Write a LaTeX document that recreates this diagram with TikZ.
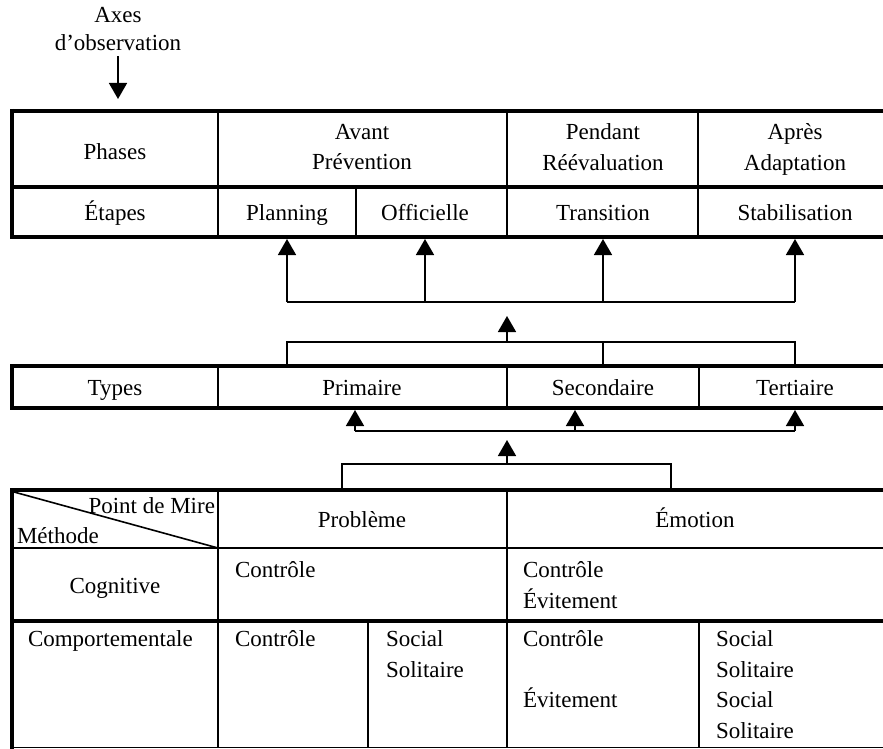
\documentclass[tikz,border=0pt]{standalone}
\usepackage{fontspec}
\setmainfont{Liberation Serif}
\usetikzlibrary{arrows.meta}
\begin{document}
\begin{tikzpicture}[x=1pt,y=-1pt,
  every node/.style={font=\fontsize{23}{30.5}\selectfont, inner sep=0pt, outer sep=0pt},
  thickrule/.style={line width=4pt},
  thinrule/.style={line width=1.6pt},
  conn/.style={line width=1.6pt},
  arr/.style={line width=1.6pt,-{Triangle[width=18pt,length=16pt]}},
  rowtwo/.style={anchor=base,text height=33pt,text depth=17pt},
  rowtypes/.style={anchor=base,text height=29pt,text depth=13pt},
  rowhead/.style={anchor=base,text height=37pt,text depth=21pt},
  lines/.style={align=left,anchor=north west},
  twoline/.style={align=center,anchor=north},
]
\useasboundingbox (0,0) rectangle (883,749);

% observation axis label
\node[twoline,font=\fontsize{23}{28}\selectfont] (axes) at (118,7) {Axes\\d'observation};
\coordinate (axtip) at (118,99);
\draw[arr,shorten <=6pt] (axes.south) -- (axtip);

% ---------- top table ----------
\draw[thickrule] (10,111) -- (883,111);
\draw[thickrule] (10,187) -- (883,187);
\draw[thickrule] (10,237) -- (883,237);
\draw[thickrule] (12,109) -- (12,239);
\draw[thinrule] (218,111) -- (218,237);
\draw[thinrule] (507,111) -- (507,237);
\draw[thinrule] (698,111) -- (698,237);
\draw[thinrule] (356,187) -- (356,237);

\node[anchor=base] (phases) at (115,159) {Phases};
\node[twoline] (avant) at (362,124) {Avant\\Prévention};
\node[twoline] (pendant) at (603,124) {Pendant\\Réévaluation};
\node[twoline] (apres) at (795,124) {Après\\Adaptation};

\node[rowtwo] (etapes) at (115,220) {Étapes};
\node[rowtwo] (planning) at (287,220) {Planning};
\node[rowtwo] (officielle) at (425,220) {Officielle};
\node[rowtwo] (transition) at (603,220) {Transition};
\node[rowtwo] (stabil) at (795,220) {Stabilisation};

% arrows to the stages
\coordinate (ub1) at (287,302);
\coordinate (ub2) at (425,302);
\coordinate (ub3) at (603,302);
\coordinate (ub4) at (795,302);
\draw[conn] (ub1) -- (ub4);
\draw[arr,shorten >=2pt] (ub1) -- (planning.south);
\draw[arr,shorten >=2pt] (ub2) -- (officielle.south);
\draw[arr,shorten >=2pt] (ub3) -- (transition.south);
\draw[arr,shorten >=2pt] (ub4) -- (stabil.south);

\coordinate (mb1) at (507,342);
\coordinate (mt1) at (507,316);
\draw[arr] (mb1) -- (mt1);

% ---------- types table ----------
\draw[thickrule] (10,366) -- (883,366);
\draw[thickrule] (10,408) -- (883,408);
\draw[thickrule] (12,364) -- (12,410);
\draw[thinrule] (218,366) -- (218,408);
\draw[thinrule] (507,366) -- (507,408);
\draw[thinrule] (699,366) -- (699,408);

\node[rowtypes] (types) at (115,395) {Types};
\node[rowtypes] (primaire) at (362,395) {Primaire};
\node[rowtypes] (secondaire) at (603,395) {Secondaire};
\node[rowtypes] (tertiaire) at (795,395) {Tertiaire};

\coordinate (kb1) at (287,342);
\coordinate (kb3) at (795,342);
\draw[conn] (primaire.north -| kb1) -- (kb1) -- (kb3) -- (tertiaire.north);
\draw[conn] (secondaire.north) -- (secondaire.north |- kb1);

\coordinate (lb1) at (355,431);
\coordinate (lb2) at (575,431);
\coordinate (lb3) at (795,431);
\draw[conn] (lb1) -- (lb3);
\draw[arr,shorten >=2pt] (lb1) -- (lb1 |- primaire.south);
\draw[arr,shorten >=2pt] (lb2) -- (lb2 |- secondaire.south);
\draw[arr,shorten >=2pt] (lb3) -- (tertiaire.south);

\coordinate (mb2) at (507,464);
\coordinate (mt2) at (507,440);
\draw[arr] (mb2) -- (mt2);

% ---------- bottom table ----------
\draw[thickrule] (10,490) -- (883,490);
\draw[thinrule] (12,548) -- (883,548);
\draw[thickrule] (10,621) -- (883,621);
\draw[thinrule] (12,747.5) -- (883,747.5);
\draw[thickrule] (12,488) -- (12,749);
\draw[thinrule] (218,490) -- (218,748);
\draw[thinrule] (507,490) -- (507,748);
\draw[thinrule] (368,621) -- (368,748);
\draw[thinrule] (699,621) -- (699,748);
\draw[thinrule] (14,492) -- (218,548);

\node[anchor=base east] (pdm) at (215,513) {Point de Mire};
\node[anchor=base west] (meth) at (17,543) {Méthode};
\node[rowhead] (probleme) at (362,527) {Problème};
\node[rowhead] (emotion) at (695,527) {Émotion};

\coordinate (kc1) at (342,464);
\coordinate (kc2) at (671,464);
\draw[conn] (probleme.north -| kc1) -- (kc1) -- (kc2) -- (emotion.north -| kc2);

\node[anchor=base] (cognitive) at (115,593) {Cognitive};
\node[anchor=base west] (pc1) at (235,577) {Contrôle};
\node[lines] (ec1) at (523,561.6) {Contrôle\\Évitement};

\node[anchor=base west] (comport) at (28,646) {Comportementale};
\node[anchor=base west] (pc2) at (235,646) {Contrôle};
\node[lines] (ps2) at (386,630.6) {Social\\Solitaire};
\node[lines] (ec2) at (523,630.6) {Contrôle\\[30.5pt]Évitement};
\node[lines] (es2) at (716,630.6) {Social\\Solitaire\\Social\\Solitaire};
\end{tikzpicture}
\end{document}
